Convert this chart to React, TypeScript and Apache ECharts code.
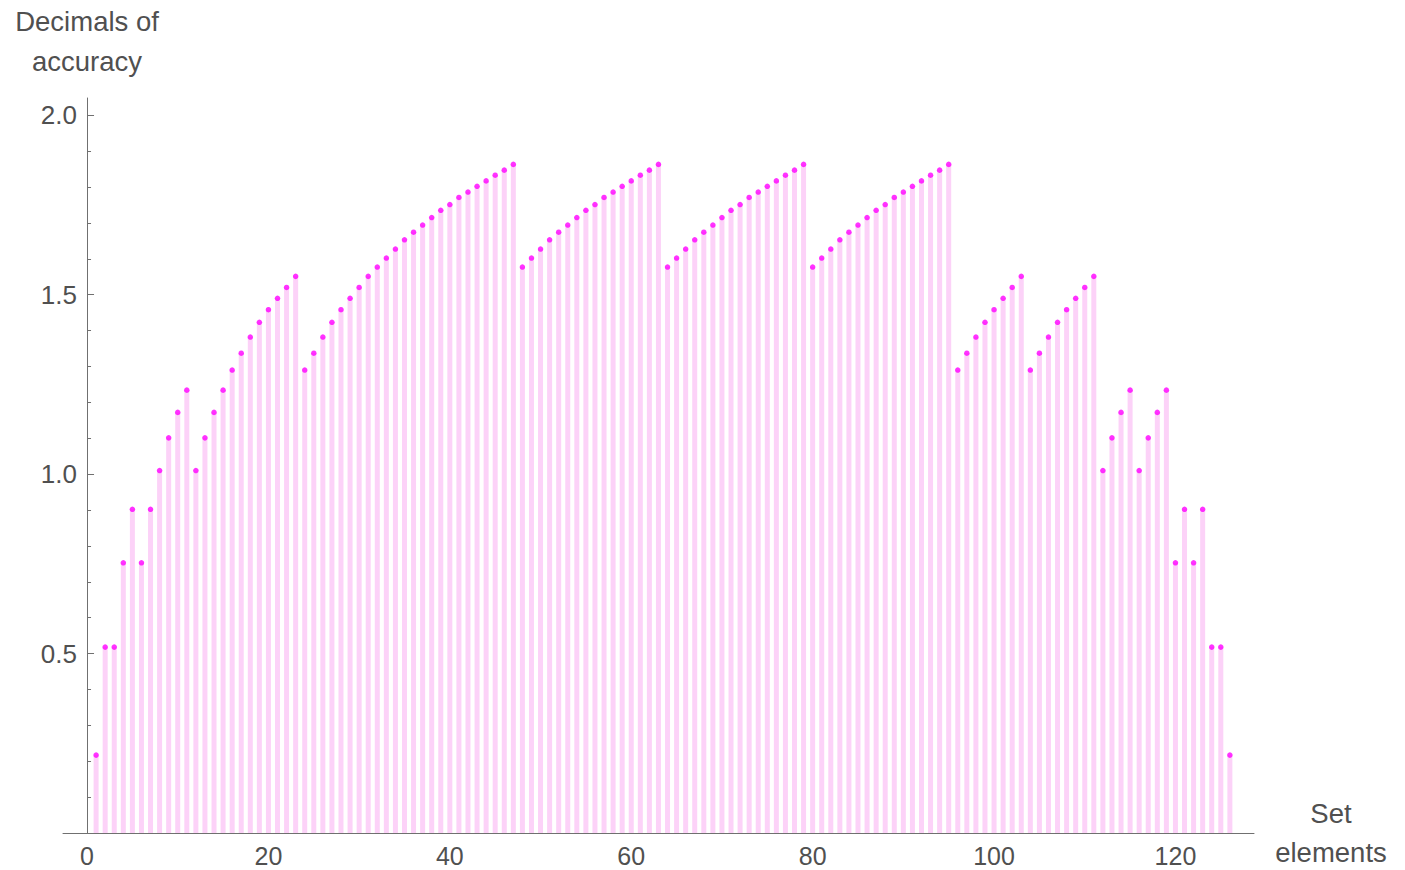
import React, { useEffect, useRef } from "react";
import * as echarts from "echarts";

// Decimals of accuracy for set elements 1..126
const accuracy: number[] = [
  0.217,
  0.518, 0.518,
  0.753, 0.902, 0.753, 0.902,
  1.010, 1.101, 1.172, 1.234,
  1.010, 1.101, 1.172, 1.234,
  1.290, 1.337, 1.382, 1.423, 1.458, 1.490, 1.520, 1.551,
  1.290, 1.337, 1.382, 1.423, 1.458, 1.490, 1.520, 1.551,
  1.577, 1.602, 1.627, 1.653, 1.674, 1.694, 1.715, 1.735, 1.751, 1.771, 1.786, 1.802, 1.817, 1.833, 1.847, 1.863,
  1.577, 1.602, 1.627, 1.653, 1.674, 1.694, 1.715, 1.735, 1.751, 1.771, 1.786, 1.802, 1.817, 1.833, 1.847, 1.863,
  1.577, 1.602, 1.627, 1.653, 1.674, 1.694, 1.715, 1.735, 1.751, 1.771, 1.786, 1.802, 1.817, 1.833, 1.847, 1.863,
  1.577, 1.602, 1.627, 1.653, 1.674, 1.694, 1.715, 1.735, 1.751, 1.771, 1.786, 1.802, 1.817, 1.833, 1.847, 1.863,
  1.290, 1.337, 1.382, 1.423, 1.458, 1.490, 1.520, 1.551,
  1.290, 1.337, 1.382, 1.423, 1.458, 1.490, 1.520, 1.551,
  1.010, 1.101, 1.172, 1.234,
  1.010, 1.101, 1.172, 1.234,
  0.753, 0.902, 0.753, 0.902,
  0.518, 0.518,
  0.217,
];

const xMajorTicks = [0, 20, 40, 60, 80, 100, 120];
const xMinorTicks = [5, 10, 15, 25, 30, 35, 45, 50, 55, 65, 70, 75, 85, 90, 95, 105, 110, 115, 125];
const yMajorTicks = [0.5, 1.0, 1.5, 2.0];
const yMinorTicks = [0.1, 0.2, 0.3, 0.4, 0.6, 0.7, 0.8, 0.9, 1.1, 1.2, 1.3, 1.4, 1.6, 1.7, 1.8, 1.9];

const TEXT = "#505050";
const AXIS = "#707070";
const FONT = "'Liberation Sans', Arial, Helvetica, sans-serif";

export default function App() {
  const ref = useRef<HTMLDivElement>(null);

  useEffect(() => {
    if (!ref.current) return;
    const chart = echarts.init(ref.current, null, { renderer: "svg" });
    const points = accuracy.map((v, i) => [i + 1, v]);
    const xMin = -2.65;
    const xMax = 128.66;
    const yMin = 0;
    const yMax = 2.048;

    chart.setOption({
      animation: false,
      backgroundColor: "#ffffff",
      textStyle: { fontFamily: FONT },
      grid: { left: 63, width: 1191, top: 98, height: 735, containLabel: false, outerBoundsMode: "none" },
      xAxis: [
        {
          type: "value",
          position: "bottom",
          min: xMin,
          max: xMax,
          name: "Set\nelements",
          nameLocation: "end",
          nameGap: 77,
          nameTextStyle: {
            fontSize: 27.5,
            lineHeight: 39,
            color: TEXT,
            align: "center",
            verticalAlign: "middle",
            padding: [4, 0, 0, 0],
            fontFamily: FONT,
          },
          axisLine: { show: true, onZero: false, lineStyle: { color: AXIS, width: 1 } },
          axisTick: { show: true, inside: true, length: 7, customValues: xMajorTicks, lineStyle: { color: AXIS } },
          axisLabel: {
            show: true,
            customValues: xMajorTicks,
            margin: 13,
            fontSize: 25,
            lineHeight: 20,
            color: TEXT,
            fontFamily: FONT,
          },
          splitLine: { show: false },
        },
        {
          type: "value",
          position: "bottom",
          min: xMin,
          max: xMax,
          axisLine: { show: false, onZero: false },
          axisTick: { show: true, inside: true, length: 4, customValues: xMinorTicks, lineStyle: { color: AXIS } },
          axisLabel: { show: false },
          splitLine: { show: false },
        },
      ],
      yAxis: [
        {
          type: "value",
          position: "left",
          min: yMin,
          max: yMax,
          name: "Decimals of\naccuracy",
          nameLocation: "end",
          nameGap: 17,
          nameTextStyle: {
            fontSize: 27.5,
            lineHeight: 40,
            color: TEXT,
            align: "center",
            verticalAlign: "bottom",
            fontFamily: FONT,
          },
          axisLine: { show: true, onZero: true, onZeroAxisIndex: 0, lineStyle: { color: AXIS, width: 1 } },
          axisTick: { show: true, inside: true, length: 7, customValues: yMajorTicks, lineStyle: { color: AXIS } },
          axisLabel: {
            show: true,
            customValues: yMajorTicks,
            margin: -14,
            fontSize: 26,
            color: TEXT,
            fontFamily: FONT,
            formatter: (v: number) => v.toFixed(1),
          },
          splitLine: { show: false },
        },
        {
          type: "value",
          position: "left",
          min: yMin,
          max: yMax,
          axisLine: { show: false, onZero: true, onZeroAxisIndex: 0 },
          axisTick: { show: true, inside: true, length: 4, customValues: yMinorTicks, lineStyle: { color: AXIS } },
          axisLabel: { show: false },
          splitLine: { show: false },
        },
      ],
      series: [
        {
          type: "bar",
          xAxisIndex: 0,
          yAxisIndex: 0,
          data: points,
          barWidth: 5,
          itemStyle: { color: "#fcd2f8" },
          silent: true,
        },
        {
          type: "scatter",
          xAxisIndex: 0,
          yAxisIndex: 0,
          data: points,
          symbol: "circle",
          symbolSize: 5.5,
          itemStyle: { color: "#ff00ff" },
          silent: true,
        },
      ],
    });

    return () => chart.dispose();
  }, []);

  return (
    <div
      ref={ref}
      style={{ position: "fixed", left: 0, top: 0, width: 1405, height: 870, background: "#fff" }}
    />
  );
}
